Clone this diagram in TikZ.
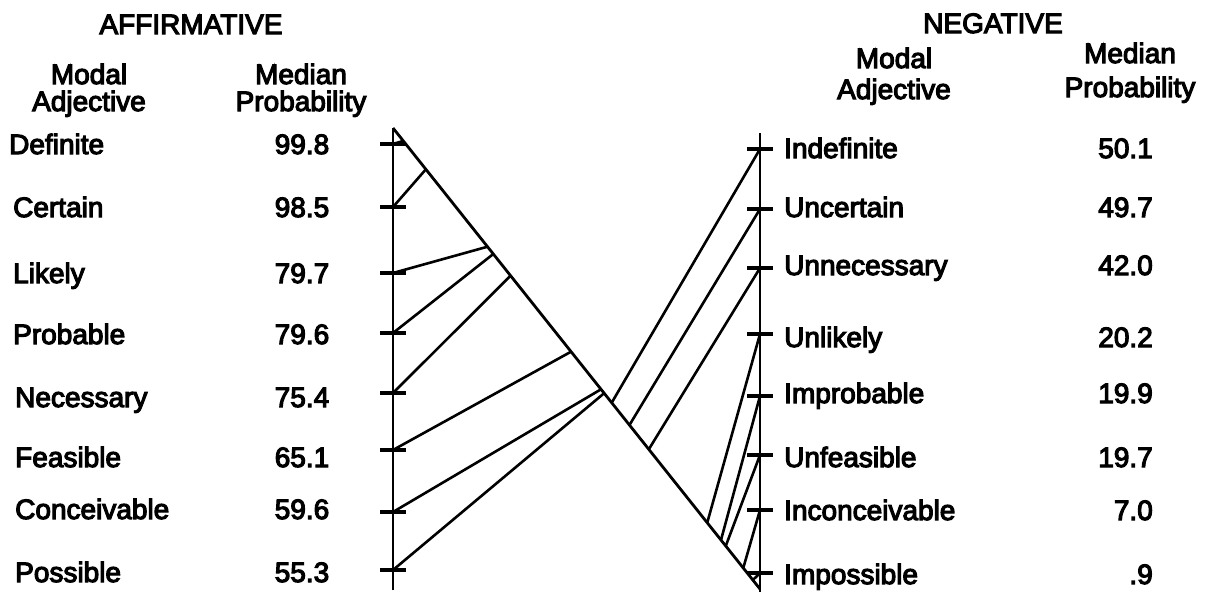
\documentclass[tikz,border=0pt]{standalone}
\usepackage{fontspec}
\newfontfamily\hv{Liberation Sans}[BoldFont={Liberation Sans}, BoldFeatures={FakeBold=4}]
\usetikzlibrary{calc}
\begin{document}
\begin{tikzpicture}[x=1pt,y=-1pt,
  lbl/.style={inner sep=0pt, font=\hv\bfseries\fontsize{28}{30}\selectfont},
  axisline/.style={line width=2.8pt},
  tickmark/.style={line width=3.2pt},
  conn/.style={line width=2.6pt}]
\useasboundingbox (0,0) rectangle (1211,592);
% headings
\node[lbl, anchor=base] (haff) at (191,34) {AFFIRMATIVE};
\node[lbl, anchor=base] (hlm1) at (89,84) {Modal};
\node[lbl, anchor=base] (hlm2) at (89,111) {Adjective};
\node[lbl, anchor=base] (hlp1) at (301,84) {Median};
\node[lbl, anchor=base] (hlp2) at (301,111) {Probability};
\node[lbl, anchor=base] (hneg) at (993,33) {NEGATIVE};
\node[lbl, anchor=base] (hrm1) at (894,68) {Modal};
\node[lbl, anchor=base] (hrm2) at (894,99) {Adjective};
\node[lbl, anchor=base] (hrp1) at (1130,63) {Median};
\node[lbl, anchor=base] (hrp2) at (1130,97) {Probability};
% axes and diagonal
\coordinate (LT) at (393,128);
\coordinate (LB) at (393,590);
\coordinate (RT) at (760,133);
\coordinate (RB) at (760,592);
\coordinate (DT) at (393,128);
\coordinate (DB) at (760,589);
\draw[axisline] (LT) -- (LB);
\draw[axisline] (RT) -- (RB);
\draw[axisline] (DT) -- (DB);
% affirmative rows
\foreach \i/\name/\val/\ty/\f/\by/\lx in {
  1/Definite/99.8/144/0.028/154/9,
  2/Certain/98.5/207/0.0896/217/13,
  3/Likely/79.7/273/0.2575/283/13,
  4/Probable/79.6/333/0.2733/344/13,
  5/Necessary/75.4/393/0.3204/407/15,
  6/Feasible/65.1/450/0.4852/467/15,
  7/Conceivable/59.6/512/0.5668/519/15,
  8/Possible/55.3/570/0.5753/582/15}{
  \node[lbl, anchor=base west] (ladj\i) at (\lx,\by) {\name};
  \node[lbl, anchor=base] (lval\i) at (302,\by) {\val};
  \coordinate (lt\i) at (393,\ty);
  \coordinate (ld\i) at ($(DT)!\f!(DB)$);
  \draw[tickmark] (lt\i) ++(-13,0) -- ++(26,0);
  \draw[conn] (lt\i) -- (ld\i);
}
% negative rows
\foreach \i/\name/\val/\ty/\f/\by in {
  1/Indefinite/50.1/149/0.5959/158,
  2/Uncertain/49.7/209/0.6443/217,
  3/Unnecessary/42.0/268/0.697/275,
  4/Unlikely/20.2/334/0.8562/347,
  5/Improbable/19.9/396/0.8937/403,
  6/Unfeasible/19.7/455/0.9067/467,
  7/Inconceivable/7.0/510/0.9544/520,
  8/Impossible/.9/573/0.9805/584}{
  \node[lbl, anchor=base west] (radj\i) at (784,\by) {\name};
  \node[lbl, anchor=base east] (rval\i) at (1153,\by) {\val};
  \coordinate (rt\i) at (760,\ty);
  \coordinate (rd\i) at ($(DT)!\f!(DB)$);
  \draw[tickmark] (rt\i) ++(-13,0) -- ++(26,0);
  \draw[conn] (rt\i) -- (rd\i);
}
\end{tikzpicture}
\end{document}
